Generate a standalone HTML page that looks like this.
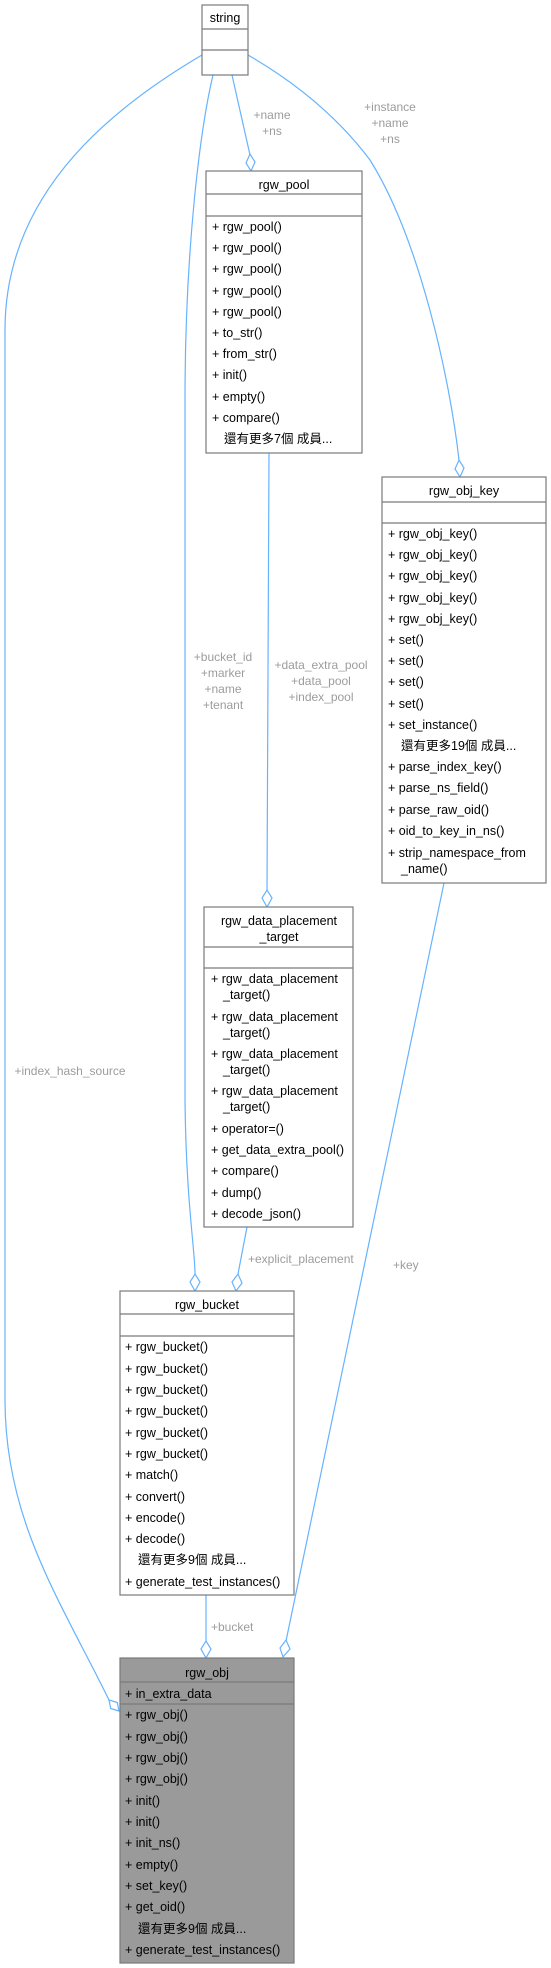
<!DOCTYPE html>
<html><head><meta charset="utf-8"><style>
html,body{margin:0;padding:0;background:#fff;}
svg{display:block;}
text{font-family:"Liberation Sans","Noto Sans CJK TC",sans-serif;font-size:12.5px;fill:#000;}
.l{fill:#9c9c9c;font-size:12px;}
.e{fill:none;stroke:#66b3ff;stroke-width:1.2;}
.d{fill:#fff;stroke:#66b3ff;stroke-width:1.2;}
.b{fill:#fff;stroke:#7a7a7a;stroke-width:1.2;}
.s{stroke:#7a7a7a;stroke-width:1.2;}
</style></head><body>
<svg width="551" height="1968" viewBox="0 0 551 1968" xmlns="http://www.w3.org/2000/svg">
<!-- edges -->
<path class="e" d="M202,55 C100,115 5,200 5,330 L5,1400 C5,1520 60,1600 109,1700"/>
<polygon class="d" points="119,1711 110.7,1708.5 109,1700 117.3,1702.5"/>
<path class="e" d="M213,75 C200,130 185,250 185,400 L185,1100 C186,1200 195,1250 195,1274"/>
<polygon class="d" points="195,1274 200,1282 195,1291 190,1282"/>
<path class="e" d="M232,75 L250,155"/>
<polygon class="d" points="250,154 255,162 251,171 246,163"/>
<path class="e" d="M248,55 C300,85 340,120 370,160 C420,240 450,380 459,460"/>
<polygon class="d" points="459,460 464,468 460,477 455,469"/>
<path class="e" d="M269,453 L267,890"/>
<polygon class="d" points="267,890 272,898 267,907 262,898"/>
<path class="e" d="M247,1227 L238,1274"/>
<polygon class="d" points="238,1274 242,1283 236,1291 232,1282"/>
<path class="e" d="M444,883 L286,1641"/>
<polygon class="d" points="286,1640 290,1649 283,1657 280,1648"/>
<path class="e" d="M206,1595 L206,1641"/>
<polygon class="d" points="206,1641 211,1649 206,1658 201,1649"/>
<!-- edge labels -->
<text class="l" x="70" y="1075" text-anchor="middle">+index_hash_source</text>
<text class="l" x="223" y="661" text-anchor="middle">+bucket_id</text>
<text class="l" x="223" y="677" text-anchor="middle">+marker</text>
<text class="l" x="223" y="693" text-anchor="middle">+name</text>
<text class="l" x="223" y="709" text-anchor="middle">+tenant</text>
<text class="l" x="272" y="119" text-anchor="middle">+name</text>
<text class="l" x="272" y="135" text-anchor="middle">+ns</text>
<text class="l" x="390" y="111" text-anchor="middle">+instance</text>
<text class="l" x="390" y="127" text-anchor="middle">+name</text>
<text class="l" x="390" y="143" text-anchor="middle">+ns</text>
<text class="l" x="321" y="669" text-anchor="middle">+data_extra_pool</text>
<text class="l" x="321" y="685" text-anchor="middle">+data_pool</text>
<text class="l" x="321" y="701" text-anchor="middle">+index_pool</text>
<text class="l" x="248" y="1263">+explicit_placement</text>
<text class="l" x="393" y="1269">+key</text>
<text class="l" x="211" y="1631">+bucket</text>

<!-- string -->
<rect class="b" x="202" y="5" width="46" height="70"/>
<line class="s" x1="202" y1="29" x2="248" y2="29"/>
<line class="s" x1="202" y1="50" x2="248" y2="50"/>
<text x="225" y="22" text-anchor="middle">string</text>

<!-- rgw_pool -->
<rect class="b" x="206" y="171" width="156" height="282"/>
<line class="s" x1="206" y1="194" x2="362" y2="194"/>
<line class="s" x1="206" y1="216" x2="362" y2="216"/>
<text x="284" y="189" text-anchor="middle">rgw_pool</text>
<text x="212" y="231">+ rgw_pool()</text>
<text x="212" y="252">+ rgw_pool()</text>
<text x="212" y="273">+ rgw_pool()</text>
<text x="212" y="295">+ rgw_pool()</text>
<text x="212" y="316">+ rgw_pool()</text>
<text x="212" y="337">+ to_str()</text>
<text x="212" y="358">+ from_str()</text>
<text x="212" y="379">+ init()</text>
<text x="212" y="401">+ empty()</text>
<text x="212" y="422">+ compare()</text>
<text x="224" y="443">還有更多7個 成員...</text>

<!-- rgw_obj_key -->
<rect class="b" x="382" y="477" width="164" height="406"/>
<line class="s" x1="382" y1="502" x2="546" y2="502"/>
<line class="s" x1="382" y1="523" x2="546" y2="523"/>
<text x="464" y="495" text-anchor="middle">rgw_obj_key</text>
<text x="388" y="538">+ rgw_obj_key()</text>
<text x="388" y="559">+ rgw_obj_key()</text>
<text x="388" y="580">+ rgw_obj_key()</text>
<text x="388" y="602">+ rgw_obj_key()</text>
<text x="388" y="623">+ rgw_obj_key()</text>
<text x="388" y="644">+ set()</text>
<text x="388" y="665">+ set()</text>
<text x="388" y="686">+ set()</text>
<text x="388" y="708">+ set()</text>
<text x="388" y="729">+ set_instance()</text>
<text x="401" y="750">還有更多19個 成員...</text>
<text x="388" y="771">+ parse_index_key()</text>
<text x="388" y="792">+ parse_ns_field()</text>
<text x="388" y="814">+ parse_raw_oid()</text>
<text x="388" y="835">+ oid_to_key_in_ns()</text>
<text x="388" y="857">+ strip_namespace_from</text>
<text x="401" y="873">_name()</text>

<!-- rgw_data_placement_target -->
<rect class="b" x="204" y="907" width="149" height="320"/>
<line class="s" x1="204" y1="947" x2="353" y2="947"/>
<line class="s" x1="204" y1="968" x2="353" y2="968"/>
<text x="279" y="925" text-anchor="middle">rgw_data_placement</text>
<text x="279" y="941" text-anchor="middle">_target</text>
<text x="211" y="983">+ rgw_data_placement</text>
<text x="223" y="999">_target()</text>
<text x="211" y="1021">+ rgw_data_placement</text>
<text x="223" y="1037">_target()</text>
<text x="211" y="1058">+ rgw_data_placement</text>
<text x="223" y="1074">_target()</text>
<text x="211" y="1095">+ rgw_data_placement</text>
<text x="223" y="1111">_target()</text>
<text x="211" y="1133">+ operator=()</text>
<text x="211" y="1154">+ get_data_extra_pool()</text>
<text x="211" y="1175">+ compare()</text>
<text x="211" y="1197">+ dump()</text>
<text x="211" y="1218">+ decode_json()</text>

<!-- rgw_bucket -->
<rect class="b" x="120" y="1291" width="174" height="304"/>
<line class="s" x1="120" y1="1314" x2="294" y2="1314"/>
<line class="s" x1="120" y1="1336" x2="294" y2="1336"/>
<text x="207" y="1309" text-anchor="middle">rgw_bucket</text>
<text x="125" y="1351">+ rgw_bucket()</text>
<text x="125" y="1373">+ rgw_bucket()</text>
<text x="125" y="1394">+ rgw_bucket()</text>
<text x="125" y="1415">+ rgw_bucket()</text>
<text x="125" y="1437">+ rgw_bucket()</text>
<text x="125" y="1458">+ rgw_bucket()</text>
<text x="125" y="1479">+ match()</text>
<text x="125" y="1501">+ convert()</text>
<text x="125" y="1522">+ encode()</text>
<text x="125" y="1543">+ decode()</text>
<text x="138" y="1564">還有更多9個 成員...</text>
<text x="125" y="1586">+ generate_test_instances()</text>

<!-- rgw_obj -->
<rect x="120" y="1658" width="174" height="305" fill="#9a9a9a" stroke="#7a7a7a" stroke-width="1.2"/>
<line class="s" x1="120" y1="1682" x2="294" y2="1682"/>
<line class="s" x1="120" y1="1704" x2="294" y2="1704"/>
<text x="207" y="1677" text-anchor="middle">rgw_obj</text>
<text x="125" y="1698">+ in_extra_data</text>
<text x="125" y="1719">+ rgw_obj()</text>
<text x="125" y="1741">+ rgw_obj()</text>
<text x="125" y="1762">+ rgw_obj()</text>
<text x="125" y="1783">+ rgw_obj()</text>
<text x="125" y="1805">+ init()</text>
<text x="125" y="1826">+ init()</text>
<text x="125" y="1847">+ init_ns()</text>
<text x="125" y="1869">+ empty()</text>
<text x="125" y="1890">+ set_key()</text>
<text x="125" y="1911">+ get_oid()</text>
<text x="138" y="1933">還有更多9個 成員...</text>
<text x="125" y="1954">+ generate_test_instances()</text>
</svg>
</body></html>
